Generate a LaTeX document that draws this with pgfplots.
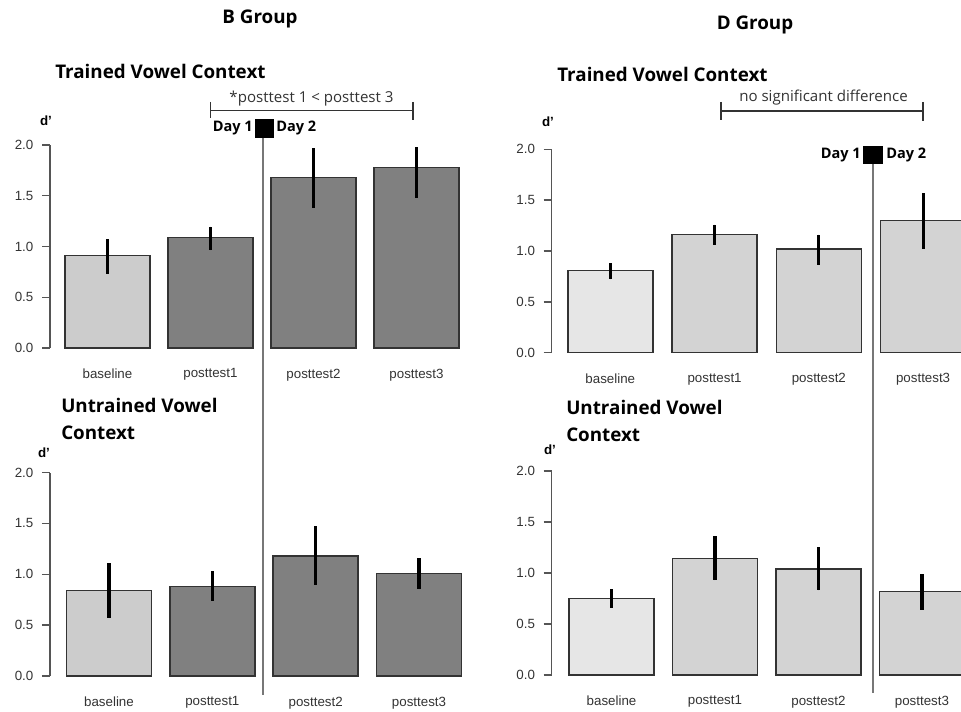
\documentclass[border=0pt]{standalone}
\usepackage{pgfplots}
\pgfplotsset{compat=1.18}
\usepackage{fontspec}
\setmainfont{Liberation Sans}
\newfontfamily\osans{Open Sans}
\definecolor{darkbar}{HTML}{808080}
\definecolor{ltbar}{HTML}{CCCCCC}
\definecolor{vltbar}{HTML}{E6E6E6}
\definecolor{midbar}{HTML}{D3D3D3}
\definecolor{edge}{HTML}{333333}
\definecolor{axgray}{HTML}{555555}
\definecolor{txtgray}{HTML}{333333}
\definecolor{divline}{HTML}{777777}

\pgfplotsset{
  panel/.style={
    scale only axis,
    anchor=south west,
    axis lines*=left,
    x axis line style={draw=none},
    y axis line style={axgray, line width=1.1pt},
    ymin=0, ymax=2,
    ytick={0,0.5,1,1.5,2},
    yticklabel style={/pgf/number format/.cd, fixed, fixed zerofill, precision=1, assume math mode=true, /tikz/.cd, font=\fontsize{10}{12}\selectfont, text=txtgray, xshift=-3pt},
    ytick style={axgray, line width=1.1pt},
    tick align=outside,
    major tick length=6pt,
    xtick={0,1,2,3},
    xticklabels={baseline,posttest1,posttest2,posttest3},
    xtick style={draw=none},
    xticklabel style={font=\fontsize{10}{12}\selectfont, text=txtgray, yshift=-6pt},
    clip=false,
  },
  bars/.style={ybar, bar shift=0pt, bar width=63.75pt, draw=edge, line width=1.1pt, fill=#1,
    error bars/.cd, y dir=both, y explicit, error mark=none,
    error bar style={black, line width=2.4pt}},
}
% pixel coordinates measured from the top-left corner
\newcommand{\px}[2]{({#1*0.75pt},{(712-#2)*0.75pt})}
\newcommand{\ttl}{\osans\fontsize{14.1}{16}\selectfont\bfseries}
\newcommand{\dayf}{\osans\fontsize{10.9}{12}\selectfont\bfseries}
\newcommand{\annf}{\osans\fontsize{11.3}{13}\selectfont}

\begin{document}
\begin{tikzpicture}
\path[use as bounding box] \px{0}{0} rectangle \px{961}{712};

% ---------- B Group, trained ----------
\begin{axis}[panel, at={(37.5pt,273pt)}, x=77.25pt, y=76.125pt, xmin=-0.558, xmax=3.55]
\addplot[bars=ltbar] coordinates {(0,0.91) += (0,0.16) -= (0,0.18)};
\addplot[bars=darkbar] coordinates {
  (1,1.09) += (0,0.105) -= (0,0.125)
  (2,1.68) += (0,0.29) -= (0,0.30)
  (3,1.78) += (0,0.20) -= (0,0.30)};
\end{axis}

% ---------- B Group, untrained ----------
\begin{axis}[panel, at={(37.5pt,27pt)}, x=77.5pt, y=76.275pt, xmin=-0.571, xmax=3.55]
\addplot[bars=ltbar] coordinates {(0,0.84) += (0,0.27) -= (0,0.27)};
\addplot[bars=darkbar] coordinates {
  (1,0.88) += (0,0.15) -= (0,0.14)
  (2,1.18) += (0,0.29) -= (0,0.285)
  (3,1.01) += (0,0.15) -= (0,0.155)};
\end{axis}

% ---------- D Group, trained ----------
\begin{axis}[panel, at={(413.775pt,269.475pt)}, x=78.2pt, y=76.275pt, xmin=-0.562, xmax=3.6]
\addplot[bars=vltbar] coordinates {(0,0.81) += (0,0.07) -= (0,0.09)};
\addplot[bars=midbar] coordinates {
  (1,1.16) += (0,0.10) -= (0,0.10)
  (2,1.02) += (0,0.14) -= (0,0.16)
  (3,1.30) += (0,0.27) -= (0,0.28)};
\end{axis}

% ---------- D Group, untrained ----------
\begin{axis}[panel, at={(413.775pt,27.75pt)}, x=77.6pt, y=76.5pt, xmin=-0.578, xmax=3.6]
\addplot[bars=vltbar] coordinates {(0,0.75) += (0,0.09) -= (0,0.09)};
\addplot[bars=midbar] coordinates {
  (1,1.14) += (0,0.22) -= (0,0.21)
  (2,1.04) += (0,0.21) -= (0,0.21)
  (3,0.82) += (0,0.17) -= (0,0.18)};
\end{axis}

% ---------- titles ----------
\node[font=\ttl] at \px{260}{19} {B Group};
\node[font=\ttl] at \px{755}{25} {D Group};
\node[font=\ttl, anchor=west, inner sep=0pt] at \px{55}{71} {Trained Vowel Context};
\node[font=\ttl, anchor=west, inner sep=0pt] at \px{557}{74} {Trained Vowel Context};
\node[font=\ttl, anchor=west, inner sep=0pt] at \px{61}{405} {Untrained Vowel};
\node[font=\ttl, anchor=west, inner sep=0pt] at \px{61}{433} {Context};
\node[font=\ttl, anchor=west, inner sep=0pt] at \px{566}{407} {Untrained Vowel};
\node[font=\ttl, anchor=west, inner sep=0pt] at \px{566}{435} {Context};

% d' labels
\node[font=\fontsize{10}{12}\selectfont\bfseries] at \px{46}{121} {d'};
\node[font=\fontsize{10}{12}\selectfont\bfseries] at \px{44}{453} {d'};
\node[font=\fontsize{10}{12}\selectfont\bfseries] at \px{548}{122} {d'};
\node[font=\fontsize{10}{12}\selectfont\bfseries] at \px{550}{450} {d'};

% ---------- day dividers ----------
\draw[divline, line width=1.1pt] \px{263}{138} -- \px{263}{695};
\fill[black] \px{255}{119} rectangle \px{274}{138};
\node[font=\dayf, anchor=east, inner sep=0pt] at \px{253}{128} {Day 1};
\node[font=\dayf, anchor=west, inner sep=0pt] at \px{276}{128} {Day 2};

\draw[divline, line width=1.1pt] \px{873}{164} -- \px{873}{693};
\fill[black] \px{863}{146} rectangle \px{883}{164};
\node[font=\dayf, anchor=east, inner sep=0pt] at \px{861}{155} {Day 1};
\node[font=\dayf, anchor=west, inner sep=0pt] at \px{886}{155} {Day 2};

% ---------- brackets ----------
\draw[txtgray, line width=0.9pt] \px{210.5}{102} -- \px{210.5}{118} \px{210.5}{110.5} -- \px{413}{110.5} \px{413}{102} -- \px{413}{120};
\node[font=\annf, text=txtgray] at \px{311.5}{99} {*posttest 1 < posttest 3};
\draw[txtgray, line width=0.9pt] \px{721}{102} -- \px{721}{120} \px{721}{111} -- \px{923}{111} \px{923}{102} -- \px{923}{121};
\node[font=\annf, text=txtgray] at \px{823.5}{98} {no significant difference};
\end{tikzpicture}
\end{document}
